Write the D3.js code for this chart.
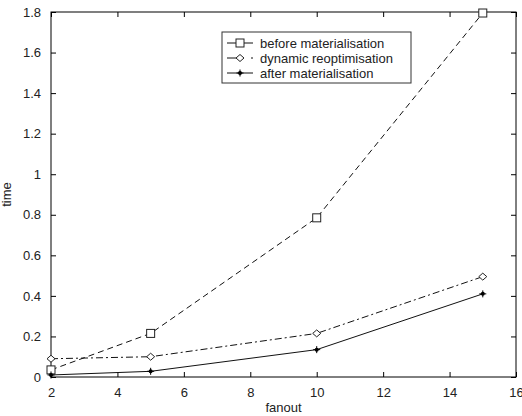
<!DOCTYPE html>
<html>
<head>
<meta charset="utf-8">
<script src="https://cdn.jsdelivr.net/npm/d3@7"></script>
<style>
  body { margin: 0; background: #fff; }
  text { font-family: Arial, "Liberation Sans", sans-serif; fill: #222; }
</style>
</head>
<body>
<script>
let fanout = [2, 5, 10, 15]
let before = [0.035, 0.215, 0.785, 1.795]
let dynamic = [0.09, 0.1, 0.215, 0.495]
let after = [0.01, 0.028, 0.135, 0.41]
let xTicks = [2, 4, 6, 8, 10, 12, 14, 16]
let yTicks = [0, 0.2, 0.4, 0.6, 0.8, 1, 1.2, 1.4, 1.6, 1.8]
let seriesNames = [' before materialisation', 'dynamic reoptimisation', 'after materialisation']

let margins = { top: 12, right: 6, bottom: 39, left: 51 }
let width = 522 - margins.left - margins.right
let height = 416 - margins.top - margins.bottom

let svg = d3.select('body').append('svg')
    .attr('width', 522)
    .attr('height', 416)
  .append('g')
    .attr('transform', 'translate(' + [margins.left, margins.top] + ')')

let x = d3.scaleLinear().domain([2, 16]).range([0, width])
let y = d3.scaleLinear().domain([0, 1.8]).range([height, 0])

let fmt = (d) => String(+d.toFixed(1))

// frame with inward ticks on all four sides
function styleAxis(g) {
  g.select('.domain').remove()
  g.selectAll('line').attr('stroke', '#000')
  g.selectAll('text').attr('font-size', 13).attr('fill', '#222')
}

svg.append('g')
  .attr('transform', 'translate(0,' + height + ')')
  .call(d3.axisBottom(x).tickValues(xTicks).tickFormat(fmt).tickSizeInner(-5).tickPadding(11))
  .call(styleAxis)
svg.append('g')
  .call(d3.axisTop(x).tickValues(xTicks).tickFormat('').tickSizeInner(-5))
  .call(styleAxis)
svg.append('g')
  .call(d3.axisLeft(y).tickValues(yTicks).tickFormat(fmt).tickSizeInner(-5).tickPadding(10))
  .call(styleAxis)
svg.append('g')
  .attr('transform', 'translate(' + width + ',0)')
  .call(d3.axisRight(y).tickValues(yTicks).tickFormat('').tickSizeInner(-5))
  .call(styleAxis)

svg.append('rect')
  .attr('width', width).attr('height', height)
  .attr('fill', 'none').attr('stroke', '#000').attr('stroke-width', 1)

let line = d3.line()
  .x((d) => x(d[0]))
  .y((d) => y(d[1]))

let series = [
  { values: before, dash: '6,4', marker: 'square' },
  { values: dynamic, dash: '7,3,2,3', marker: 'diamond' },
  { values: after, dash: null, marker: 'star' }
]

function drawMarker(g, type, cx, cy) {
  if (type == 'square') {
    g.append('rect').attr('x', cx - 4).attr('y', cy - 4).attr('width', 8).attr('height', 8)
      .attr('fill', '#fff').attr('stroke', '#222')
  } else if (type == 'diamond') {
    g.append('path').attr('d', 'M' + [cx - 4, cy] + 'L' + [cx, cy - 3.5] + 'L' + [cx + 4, cy] + 'L' + [cx, cy + 3.5] + 'Z')
      .attr('fill', '#fff').attr('stroke', '#222')
  } else {
    g.append('path').attr('d', 'M' + [cx - 3.5, cy] + 'H' + (cx + 3.5) + 'M' + [cx, cy - 3.5] + 'V' + (cy + 3.5))
      .attr('stroke', '#000')
    g.append('circle').attr('cx', cx).attr('cy', cy).attr('r', 2).attr('fill', '#000')
  }
}

series.forEach((s) => {
  let pts = fanout.map((f, i) => [f, s.values[i]])
  svg.append('path')
    .attr('d', line(pts))
    .attr('fill', 'none')
    .attr('stroke', '#111')
    .attr('stroke-width', 1)
    .attr('stroke-dasharray', s.dash)
  let mg = svg.append('g')
  pts.forEach((p) => drawMarker(mg, s.marker, x(p[0]), y(p[1])))
})

// legend
let legend = svg.append('g').attr('transform', 'translate(' + [171, 20] + ')')
legend.append('rect')
  .attr('width', 189).attr('height', 51)
  .attr('fill', '#fff').attr('stroke', '#333')
series.forEach((s, i) => {
  let ly = 11 + i * 15
  legend.append('line')
    .attr('x1', 5).attr('x2', 31).attr('y1', ly).attr('y2', ly)
    .attr('stroke', '#111').attr('stroke-dasharray', s.dash ? (i == 0 ? null : '9,3,3') : null)
  drawMarker(legend, s.marker, 18, ly)
  legend.append('text')
    .attr('x', 38).attr('y', ly + 4.5)
    .attr('font-size', 13)
    .text(seriesNames[i])
})

svg.append('text')
  .attr('x', width / 2).attr('y', height + 35)
  .attr('text-anchor', 'middle').attr('font-size', 13)
  .text('fanout')

svg.append('text')
  .attr('transform', 'translate(' + [-40, height / 2] + ') rotate(-90)')
  .attr('text-anchor', 'middle').attr('font-size', 13)
  .text('time')
</script>
</body>
</html>
